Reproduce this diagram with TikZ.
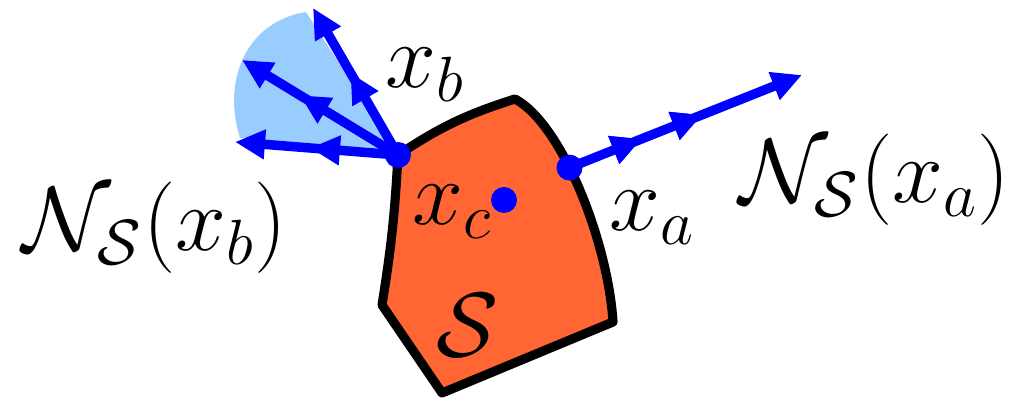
\documentclass[tikz,border=0pt]{standalone}
\usepackage{fix-cm}
\usepackage{amsmath}
\usetikzlibrary{arrows.meta,decorations.markings}
\definecolor{setfill}{HTML}{FF6633}
\definecolor{conefill}{HTML}{99CCFF}

\begin{document}
\begin{tikzpicture}[
  ray/.style={draw=blue,line width=2.7pt,-{Triangle[length=0.3cm,width=0.28cm]}},
  midtip/.style={decoration={markings,mark=at position #1 with {\arrow{Triangle[length=0.3cm,width=0.28cm]}}},postaction={decorate}},
  dot/.style={circle,fill=blue,inner sep=0pt,minimum size=0.26cm},
  lbl/.style={font=\fontsize{26}{31}\selectfont}]
\useasboundingbox (0,0) rectangle (10.11,4.02);
% points of the set
\coordinate (xb) at (3.98,2.47);
\coordinate (top) at (5.15,3.03);
\coordinate (br) at (6.13,0.80);
\coordinate (bot) at (4.42,0.09);
\coordinate (bl) at (3.82,0.97);
% ends of the normal vectors
\coordinate (na) at (8.02,3.27);
\coordinate (nb1) at (3.13,3.94);
\coordinate (nb2) at (2.42,3.42);
\coordinate (nb3) at (2.35,2.60);
% normal cone at x_b
\fill[conefill] (xb) -- (2.40,2.64) .. controls (2.22,3.2) and (2.45,3.80) .. (3.06,3.90) -- cycle;
% the set S
\draw[fill=setfill,line width=2.6pt,line join=round] (xb) to[bend left=8] (top)
  .. controls (5.62,2.78) and (6.08,1.6) .. coordinate[pos=0.41] (xa) (br)
  -- (bot) -- (bl) to[bend right=3] cycle;
\coordinate (xc) at (5.04,2.02);
% normals
\draw[ray,midtip=0.31,midtip=0.57] (xa) -- (na);
\draw[ray,midtip=0.56] (xb) -- (nb1);
\draw[ray,midtip=0.63] (xb) -- (nb2);
\draw[ray,midtip=0.54] (xb) -- (nb3);
\node[dot] (dxa) at (xa) {};
\node[dot] (dxb) at (xb) {};
\node[dot] (dxc) at (xc) {};
% labels
\node[lbl] (lxb) at (4.25,3.27) {$x_b$};
\node[lbl] (lxa) at (6.52,1.84) {$x_a$};
\node[lbl] (lxc) at (4.52,1.90) {$x_c$};
\node[lbl] (lS) at (4.68,0.77) {$\mathcal{S}$};
\node[lbl] (lna) at (8.75,2.22) {$\mathcal{N}_{\mathcal{S}}(x_a)$};
\node[lbl] (lnb) at (1.55,1.74) {$\mathcal{N}_{\mathcal{S}}(x_b)$};
\end{tikzpicture}
\end{document}
